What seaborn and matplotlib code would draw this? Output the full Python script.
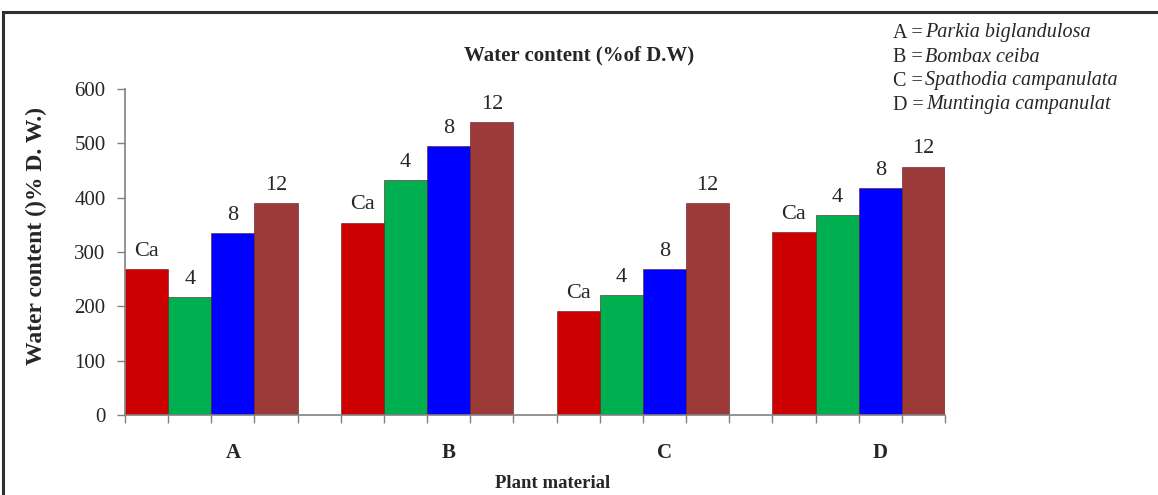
import pandas as pd
import numpy as np
import seaborn as sns
import matplotlib.pyplot as plt
from matplotlib.patches import Rectangle

# data
plants = ['A', 'B', 'C', 'D']
treatments = ['Ca', '4', '8', '12']
ca_vals = [269, 354, 191, 336]
t4_vals = [217, 432, 221, 368]
t8_vals = [335, 495, 269, 417]
t12_vals = [390, 539, 390, 457]
species = ['Parkia biglandulosa', 'Bombax ceiba', 'Spathodia campanulata', 'Muntingia campanulat']
colors = ['#CC0000', '#00B050', '#0000FF', '#9B3A38']

df = pd.DataFrame({
    'plant': plants * 4,
    'treatment': np.repeat(treatments, 4),
    'value': ca_vals + t4_vals + t8_vals + t12_vals,
})

sns.set_style('white')
plt.rcParams['font.family'] = ['Liberation Serif', 'DejaVu Serif']

fig = plt.figure(figsize=(11.58, 4.95), dpi=100)
ax = fig.add_axes([125 / 1158, 1 - 415 / 495, (945 - 125) / 1158, (415 - 89) / 495])

sns.barplot(data=df, x='plant', y='value', hue='treatment', hue_order=treatments,
            palette=colors, width=0.8, gap=0, saturation=1, edgecolor='#5a1a1a',
            linewidth=0.4, legend=False, ax=ax)

# value labels = treatment names above the bars
for cont, name in zip(ax.containers, treatments):
    ax.bar_label(cont, labels=[name] * len(cont), padding=6, fontsize=16)

ax.set_xlim(-0.4, 3.4)
ax.set_ylim(0, 600)
ax.set_yticks(range(0, 601, 100))
ax.tick_params(axis='y', labelsize=15, length=6, width=1, color='#808080', direction='out', left=True, pad=8)

# category labels sit half a slot right of group centre, ticks on every slot edge
ax.set_xticks(np.arange(4) + 0.1)
ax.set_xticklabels(plants, fontsize=15, fontweight='bold')
ax.set_xticks(np.arange(-0.4, 3.41, 0.2), minor=True)
ax.tick_params(axis='x', which='major', length=0, pad=20)
ax.tick_params(axis='x', which='minor', length=6, width=1, color='#808080', direction='out', bottom=True)

ax.set_xlabel('')
ax.set_ylabel('Water content ()% D. W.)', fontsize=17, fontweight='bold')
ax.yaxis.set_label_coords(-0.095, 0.55)

for s in ['top', 'right']:
    ax.spines[s].set_visible(False)
for s in ['left', 'bottom']:
    ax.spines[s].set_color('#808080')
    ax.spines[s].set_linewidth(1.2)

fig.text(0.5, 1 - 55 / 495, 'Water content (%of D.W)', fontsize=15, fontweight='bold',
         ha='center', va='center')
fig.text(553 / 1158, 1 - 484 / 495, 'Plant material', fontsize=13.5, fontweight='bold',
         ha='center', va='center')

# species key at the top right
for i, (p, sp) in enumerate(zip(plants, species)):
    y = 1 - (33 + 24 * i) / 495
    t = fig.text(893 / 1158, y, f'{p} =', fontsize=14.5, ha='left', va='center')
    fig.canvas.draw()
    bb = t.get_window_extent()
    fig.text((bb.x1 + 2) / 1158, y, sp, fontsize=14.5, style='italic', ha='left', va='center')

# outer frame
fig.add_artist(Rectangle((3 / 1158, -0.1), 2, 1.1 - 12 / 495, transform=fig.transFigure,
                         fill=False, edgecolor='#303030', linewidth=2.2))

plt.savefig('out.png', dpi=100)
